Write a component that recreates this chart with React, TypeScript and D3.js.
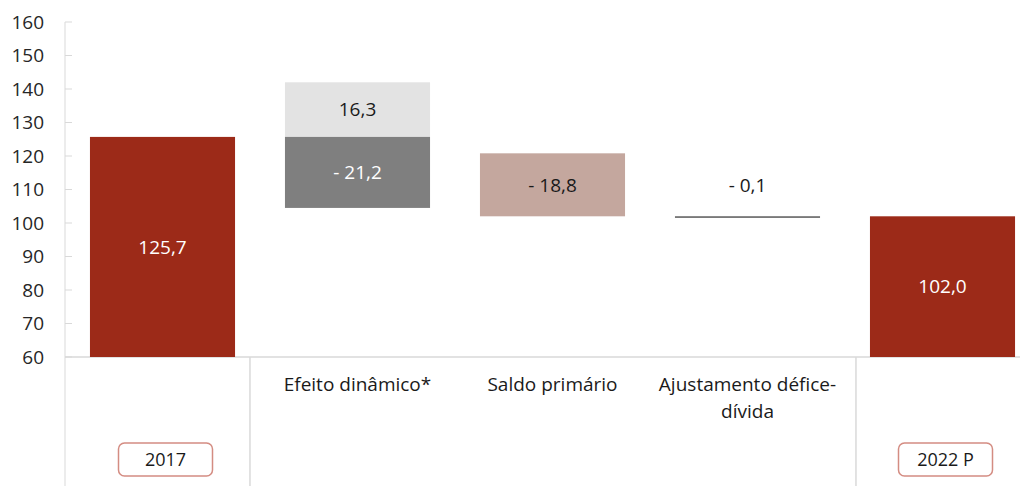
import React from "react";
import * as d3 from "d3";

const categories = ["2017", "Efeito dinâmico*", "Saldo primário", "Ajustamento défice-dívida", "2022 P"];
const startValue = 125.7;
const endValue = 102.0;
const juroValue = 16.3; // light grey part of dynamic effect
const crescValue = -21.2; // dark grey part of dynamic effect
const saldoValue = -18.8;
const ajustValue = -0.1;
const yTicks = [60, 70, 80, 90, 100, 110, 120, 130, 140, 150, 160];

const W = 1025;
const H = 486;
const FONT = "'Open Sans', 'Noto Sans', sans-serif";

export default function App() {
  const y = d3.scaleLinear().domain([60, 160]).range([357, 22]);
  const x = d3.scaleBand<string>().domain(categories).range([65, 1040]).paddingInner(0.256).paddingOuter(0.128);
  const bw = x.bandwidth();
  const fmt = (v: number) => (v < 0 ? "- " : "") + Math.abs(v).toFixed(1).replace(".", ",");

  const dynTop = startValue + juroValue;
  const dynBottom = startValue + crescValue;
  const afterDyn = startValue + juroValue + crescValue;
  const afterSaldo = afterDyn + saldoValue;
  const afterAjust = afterSaldo + ajustValue;

  const c0 = x(categories[0])!;
  const c1 = x(categories[1])!;
  const c2 = x(categories[2])!;
  const c3 = x(categories[3])!;
  const c4 = x(categories[4])!;
  const mid = (c: number) => c + bw / 2;
  const red = "#9c2a18";
  const grid = "#d9d9d9";
  const fs = 19;
  const txt = "#1a1a1a";

  return (
    <svg width={W} height={H} style={{ position: "absolute", left: 0, top: 0, fontFamily: FONT }}>
      <rect x={0} y={0} width={W} height={H} fill="#fff" />
      {/* axis lines */}
      <line x1={65} x2={65} y1={y(160)} y2={H} stroke={grid} strokeWidth={1} />
      <line x1={65} x2={1020} y1={y(60)} y2={y(60)} stroke={grid} strokeWidth={1.5} />
      <line x1={c1 - 35} x2={c1 - 35} y1={y(60)} y2={H} stroke={grid} strokeWidth={1.5} />
      <line x1={c4 - 14} x2={c4 - 14} y1={y(60)} y2={H} stroke={grid} strokeWidth={1.5} />
      {yTicks.map((t) => (
        <g key={t}>
          <line x1={65} x2={72} y1={y(t)} y2={y(t)} stroke={grid} />
          <text x={44} y={y(t)} dy="0.36em" textAnchor="end" fontSize={fs} fill="#262626">
            {t}
          </text>
        </g>
      ))}
      {/* 2017 bar */}
      <rect x={c0} y={y(startValue)} width={bw} height={y(60) - y(startValue)} fill={red} />
      <text x={mid(c0)} y={(y(startValue) + y(60)) / 2} dy="0.36em" textAnchor="middle" fontSize={fs} fill="#fff">
        {fmt(startValue)}
      </text>
      {/* Dynamic effect */}
      <rect x={c1} y={y(dynTop)} width={bw} height={y(startValue) - y(dynTop)} fill="#e3e3e3" />
      <rect x={c1} y={y(startValue)} width={bw} height={y(dynBottom) - y(startValue)} fill="#7f7f7f" />
      <text x={mid(c1)} y={(y(dynTop) + y(startValue)) / 2} dy="0.36em" textAnchor="middle" fontSize={fs} fill={txt}>
        {fmt(juroValue)}
      </text>
      <text x={mid(c1)} y={(y(startValue) + y(dynBottom)) / 2} dy="0.36em" textAnchor="middle" fontSize={fs} fill="#fff">
        {fmt(crescValue)}
      </text>
      {/* Saldo primário */}
      <rect x={c2} y={y(afterDyn)} width={bw} height={y(afterSaldo) - y(afterDyn)} fill="#c4a79e" />
      <text x={mid(c2)} y={(y(afterDyn) + y(afterSaldo)) / 2} dy="0.36em" textAnchor="middle" fontSize={fs} fill={txt}>
        {fmt(saldoValue)}
      </text>
      {/* Ajustamento */}
      <rect x={c3} y={y(afterSaldo)} width={bw} height={Math.max(1.5, y(afterAjust) - y(afterSaldo))} fill="#595959" />
      <text x={mid(c3)} y={(y(afterDyn) + y(afterSaldo)) / 2} dy="0.36em" textAnchor="middle" fontSize={fs} fill={txt}>
        {fmt(ajustValue)}
      </text>
      {/* 2022 P */}
      <rect x={c4} y={y(endValue)} width={bw} height={y(60) - y(endValue)} fill={red} />
      <text x={mid(c4)} y={(y(endValue) + y(60)) / 2} dy="0.36em" textAnchor="middle" fontSize={fs} fill="#fff">
        {fmt(endValue)}
      </text>
      {/* category labels */}
      <text x={mid(c1)} y={384} dy="0.36em" textAnchor="middle" fontSize={fs} fill={txt}>
        {categories[1]}
      </text>
      <text x={mid(c2)} y={384} dy="0.36em" textAnchor="middle" fontSize={fs} fill={txt}>
        {categories[2]}
      </text>
      <text x={mid(c3)} y={384} dy="0.36em" textAnchor="middle" fontSize={fs} fill={txt}>
        Ajustamento défice-
      </text>
      <text x={mid(c3)} y={411} dy="0.36em" textAnchor="middle" fontSize={fs} fill={txt}>
        dívida
      </text>
      {/* boxed year labels */}
      {[c0, c4].map((c, i) => (
        <g key={i}>
          <rect x={mid(c) - 47 + 3} y={443} width={94} height={33} rx={6} fill="#fff" stroke="#d48c82" strokeWidth={1.5} />
          <text x={mid(c) + 3} y={460} dy="0.36em" textAnchor="middle" fontSize={fs - 1} fill={txt}>
            {i === 0 ? categories[0] : categories[4]}
          </text>
        </g>
      ))}
    </svg>
  );
}
